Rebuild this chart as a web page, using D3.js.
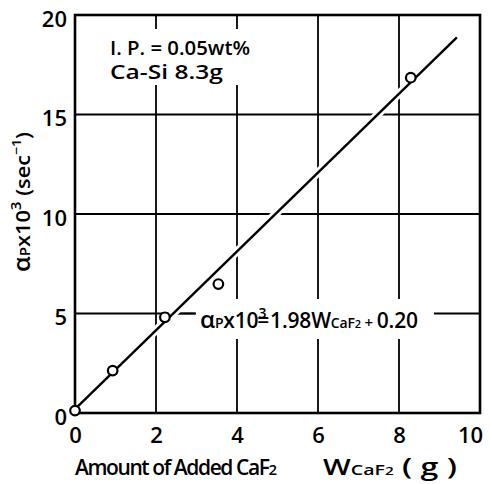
<!DOCTYPE html>
<html><head><meta charset="utf-8">
<script src="https://cdn.jsdelivr.net/npm/d3@7"></script>
<style>
html,body{margin:0;padding:0;background:#fff;}
svg{display:block;}
text{font-family:"Open Sans","DejaVu Sans",sans-serif;font-weight:600;fill:#000;}
</style></head>
<body>
<svg id="chart" width="490" height="484"></svg>
<script>
// ---- data ----
const caf2Added = [0, 0.93, 2.22, 3.54, 8.29];          // W_CaF2 (g)
const alphaP = [0.12, 2.13, 4.81, 6.48, 16.85];         // alpha_P x 10^3 (sec^-1)
const fitSlope = 1.98;
const fitIntercept = 0.20;
const fitRange = [0, 9.43];
const xTicks = [0, 2, 4, 6, 8, 10];
const yTicks = [0, 5, 10, 15, 20];
const xGrid = [2, 4, 6, 8];
const yGrid = [5, 10, 15];

const svg = d3.select("#chart");
const m = {left: 75, top: 15, right: 10, bottom: 71};
const W = 490, H = 484;
const x = d3.scaleLinear().domain([0, 10]).range([m.left, W - m.right]);
const y = d3.scaleLinear().domain([0, 20]).range([H - m.bottom, m.top]);

// fit a text element to a given width
function fitTo(sel, w, mode) {
  sel.attr("textLength", w).attr("lengthAdjust", mode || "spacingAndGlyphs");
  return sel;
}

// grid
const g = svg.append("g").attr("stroke", "#000").attr("stroke-width", 1.8);
g.selectAll(".vg").data(xGrid).join("line")
  .attr("x1", d => x(d)).attr("x2", d => x(d)).attr("y1", y(0)).attr("y2", y(20));
g.selectAll(".hg").data(yGrid).join("line")
  .attr("y1", d => y(d)).attr("y2", d => y(d)).attr("x1", x(0)).attr("x2", x(10));

// white boxes behind annotations
svg.append("rect").attr("x", 103).attr("y", 29).attr("width", 152).attr("height", 56).attr("fill", "#fff");
svg.append("rect").attr("x", 196).attr("y", 299).attr("width", 238).attr("height", 40).attr("fill", "#fff");
// leader
svg.append("line").attr("x1", 172).attr("x2", 195).attr("y1", y(5)).attr("y2", y(5)).attr("stroke", "#000").attr("stroke-width", 1.8);

// fit line
const fitPts = fitRange.map(v => [v, fitSlope * v + fitIntercept]);
const line = d3.line().x(d => x(d[0])).y(d => y(d[1]));
svg.append("path").attr("d", line(fitPts)).attr("stroke", "#fff").attr("stroke-width", 8).attr("fill", "none");
svg.append("path").attr("d", line(fitPts)).attr("stroke", "#000").attr("stroke-width", 2.4).attr("fill", "none");

// frame
svg.append("rect").attr("x", x(0)).attr("y", y(20)).attr("width", x(10) - x(0)).attr("height", y(0) - y(20))
  .attr("fill", "none").attr("stroke", "#000").attr("stroke-width", 2.6);

// points
svg.selectAll(".pt").data(caf2Added.map((v, i) => [v, alphaP[i]])).join("circle")
  .attr("cx", d => x(d[0])).attr("cy", d => y(d[1])).attr("r", 4.8)
  .attr("fill", "#fff").attr("stroke", "#000").attr("stroke-width", 2.2);

// axes tick labels
const xAxis = svg.append("g").attr("transform", `translate(0,${y(0)})`)
  .call(d3.axisBottom(x).tickValues(xTicks).tickSize(0).tickPadding(14).tickFormat(d3.format("d")));
xAxis.select(".domain").remove();
xAxis.selectAll("text").attr("font-size", 22).attr("font-family", null)
  .attr("dx", d => d === 10 ? -10 : 0);
const yAxis = svg.append("g").attr("transform", `translate(${x(0)},0)`)
  .call(d3.axisLeft(y).tickValues(yTicks).tickSize(0).tickPadding(8).tickFormat(d3.format("d")));
yAxis.select(".domain").remove();
yAxis.selectAll("text").attr("font-size", 22).attr("dy", "0.52em").attr("font-family", null);

// top annotation
fitTo(svg.append("text").attr("x", 110).attr("y", 55).attr("font-size", 19), 140).text("I. P. = 0.05wt%");
fitTo(svg.append("text").attr("x", 110).attr("y", 79).attr("font-size", 19), 113).text("Ca-Si  8.3g");

// equation
const eq = svg.append("text").attr("x", 200).attr("y", 328).attr("font-size", 21);
eq.append("tspan").attr("font-size", 24).text("α");
eq.append("tspan").attr("font-size", 14).text("P");
eq.append("tspan").text("x10");
eq.append("tspan").attr("font-size", 14).attr("dy", -10).text("3");
eq.append("tspan").attr("dx", -9).attr("dy", 10).text("=");
eq.append("tspan").attr("dx", 1).text("1.98W");
eq.append("tspan").attr("font-size", 14).text("CaF");
eq.append("tspan").attr("font-size", 11).text("2");
eq.append("tspan").attr("font-size", 15).text(" + ");
eq.append("tspan").text("0.20");
fitTo(eq, 218, "spacing");

// x title
const xt1 = svg.append("text").attr("x", 75).attr("y", 475).attr("font-size", 21);
xt1.append("tspan").text("Amount of Added CaF");
xt1.append("tspan").attr("font-size", 15).text("2");
fitTo(xt1, 202, "spacing");
const xt2 = svg.append("text").attr("x", 323).attr("y", 475).attr("font-size", 21);
xt2.append("tspan").text("W");
xt2.append("tspan").attr("font-size", 14).text("CaF");
xt2.append("tspan").attr("font-size", 11).text("2");
xt2.append("tspan").attr("font-size", 23).text("   ( g )");
fitTo(xt2, 134);

// y title
const yt = svg.append("text").attr("transform", "translate(30,202) rotate(-90)").attr("text-anchor", "middle").attr("font-size", 20);
yt.append("tspan").attr("font-size", 23).text("α");
yt.append("tspan").attr("font-size", 14).text("P");
yt.append("tspan").text("x10");
yt.append("tspan").attr("font-size", 14).attr("dy", -9).text("3");
yt.append("tspan").attr("dy", 9).text(" (sec");
yt.append("tspan").attr("font-size", 13).attr("dy", -9).text("−1");
yt.append("tspan").attr("dy", 9).text(")");
fitTo(yt, 140);
</script>
</body></html>
